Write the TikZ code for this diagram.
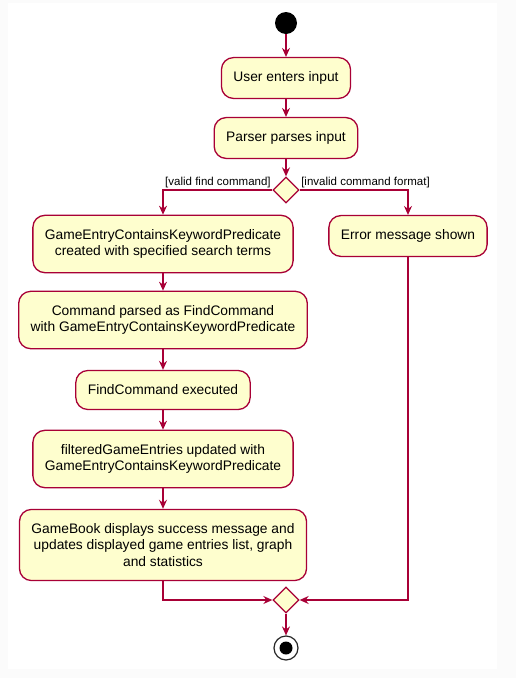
\documentclass[tikz,border=0pt]{standalone}
\usepackage{fontspec}
\setmainfont{Liberation Sans}
\usetikzlibrary{arrows.meta,shapes.geometric}
\definecolor{umlfill}{HTML}{FEFECE}
\definecolor{umlline}{HTML}{A80036}

\begin{document}
\begin{tikzpicture}[x=1pt,y=-1pt]
\tikzstyle{act}=[draw=umlline, fill=umlfill, line width=1.3pt, rounded corners=12pt, align=center, inner xsep=12pt, inner ysep=14pt, minimum height=39pt, font=\fontsize{13.8}{16.5}\selectfont];
\tikzstyle{branch}=[diamond, draw=umlline, fill=umlfill, line width=1.3pt, minimum width=26pt, minimum height=26pt, inner sep=0pt];
\tikzstyle{flow}=[draw=umlline, line width=1.3pt, -{Stealth[length=9pt, width=8pt, inset=3pt]}];
\tikzstyle{guard}=[font=\fontsize{11.5}{13}\selectfont, inner xsep=1pt, inner ysep=1.5pt];

\fill[black!1.5] (0,0) rectangle (516,678);
\fill[white] (8,3) rectangle (497,669);

\draw (286,23) node[circle, fill=black, minimum size=22pt, inner sep=0pt] (start) {};
\draw (286,78) node[act] (input) {User enters input};
\draw (286,138) node[act] (parse) {Parser parses input};
\draw (286,190) node[branch] (split) {};

\draw (163,244) node[act] (pred) {GameEntryContainsKeywordPredicate\\created with specified search terms};
\draw (408,236) node[act] (error) {Error message shown};
\draw (163,320) node[act] (cmd) {Command parsed as FindCommand\\with GameEntryContainsKeywordPredicate};
\draw (163,390) node[act] (exec) {FindCommand executed};
\draw (163,459) node[act] (filter) {filteredGameEntries updated with\\GameEntryContainsKeywordPredicate};
\draw (163,545) node[act] (show) {GameBook displays success message and\\updates displayed game entries list, graph\\and statistics};

\draw (286,600) node[branch] (merge) {};
\draw (286,648) node[circle, draw=black!85, line width=1.2pt, minimum size=24pt, inner sep=0pt] (stop) {};
\fill (stop.center) circle (6.5pt);

\draw[flow] (start) -- (input);
\draw[flow] (input) -- (parse);
\draw[flow] (parse) -- (split);
\draw[flow] (split.west) node[guard, anchor=south east] {[valid find command]} -| (pred.north);
\draw[flow] (split.east) node[guard, anchor=south west] {[invalid command format]} -| (error.north);
\draw[flow] (pred) -- (cmd);
\draw[flow] (cmd) -- (exec);
\draw[flow] (exec) -- (filter);
\draw[flow] (filter) -- (show);
\draw[flow] (show.south) |- (merge.west);
\draw[flow] (error.south) |- (merge.east);
\draw[flow] (merge) -- (stop);
\end{tikzpicture}
\end{document}
